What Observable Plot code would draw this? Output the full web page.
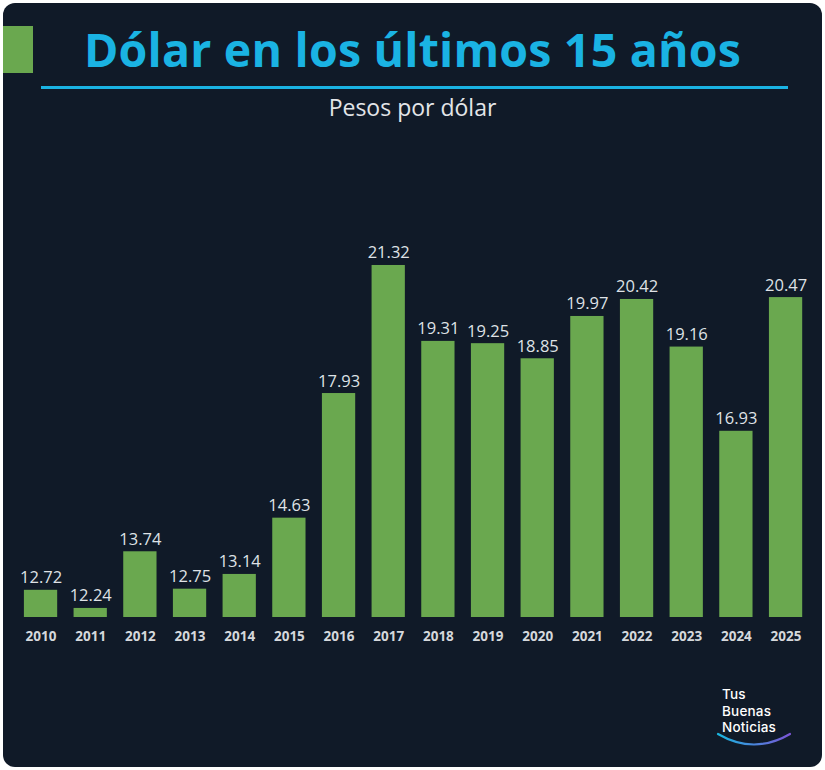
<!DOCTYPE html>
<html>
<head>
<meta charset="utf-8">
<script src="https://cdn.jsdelivr.net/npm/d3@7"></script>
<script src="https://cdn.jsdelivr.net/npm/@observablehq/plot@0.6"></script>
<style>
  html, body { margin: 0; padding: 0; background: #ffffff; }
  #wrap { position: relative; width: 825px; height: 770px; background: #ffffff; overflow: hidden; font-family: "Open Sans", sans-serif; }
  #card { position: absolute; left: 3px; top: 3px; width: 819px; height: 764px; background: #101a28; border-radius: 12px; }
  #tag { position: absolute; left: 3px; top: 26px; width: 30px; height: 47px; background: #6aa84f; }
  #title { position: absolute; left: 0; width: 825px; top: 19px; text-align: center; color: #1ab3e3; font-weight: 700; font-size: 46.5px; line-height: 60px; letter-spacing: 0.2px; }
  #rule { position: absolute; left: 41px; width: 747px; top: 86px; height: 3px; background: #1ab3e3; }
  #subtitle { position: absolute; left: 0; width: 825px; top: 92px; text-align: center; color: #e3e5e8; font-size: 23px; line-height: 30px; font-weight: 400; }
  #chart { position: absolute; left: 0; top: 0; }
  .logo { position: absolute; left: 722px; color: #ffffff; font-family: "Inter", sans-serif; font-weight: 500; font-size: 13.5px; line-height: 16px; letter-spacing: 0.2px; }
  #arc { position: absolute; left: 713px; top: 729px; }
</style>
</head>
<body>
<div id="wrap">
  <div id="card"></div>
  <div id="tag"></div>
  <div id="title">Dólar en los últimos 15 años</div>
  <div id="rule"></div>
  <div id="subtitle">Pesos por dólar</div>
  <div id="chart"></div>
  <div class="logo" style="top:686px">Tus</div>
  <div class="logo" style="top:703px">Buenas</div>
  <div class="logo" style="top:719px">Noticias</div>
  <svg id="arc" width="82" height="22">
    <defs>
      <linearGradient id="g" x1="0" x2="1" y1="0" y2="0">
        <stop offset="0" stop-color="#19b6e0"/>
        <stop offset="1" stop-color="#7b55d6"/>
      </linearGradient>
    </defs>
    <path d="M5 5 Q 41 26 77 5" fill="none" stroke="url(#g)" stroke-width="2.2" stroke-linecap="round"/>
  </svg>
</div>
<script>
const years = ["2010","2011","2012","2013","2014","2015","2016","2017","2018","2019","2020","2021","2022","2023","2024","2025"];
const values = [12.72, 12.24, 13.74, 12.75, 13.14, 14.63, 17.93, 21.32, 19.31, 19.25, 18.85, 19.97, 20.42, 19.16, 16.93, 20.47];
const yBase = 12;
const yTop = 22;

const data = years.map((y, i) => ({year: y, value: values[i]}));

const chart = Plot.plot({
  width: 825,
  height: 770,
  marginTop: 239.3,
  marginBottom: 153,
  marginLeft: 23.9,
  marginRight: 22.8,
  style: {background: "transparent", fontFamily: "Open Sans, sans-serif", overflow: "visible"},
  x: {domain: years, paddingInner: 0.33, paddingOuter: 0, round: false, label: null},
  y: {domain: [yBase, yTop], axis: null},
  marks: [
    Plot.barY(data, {x: "year", y1: yBase, y2: "value", fill: "#6aa84f"}),
    Plot.text(data, {x: "year", y: "value", text: d => d.value.toFixed(2), dy: -7, lineAnchor: "bottom", fill: "#dfe2e6", fontSize: 16.5}),
    Plot.axisX({tickSize: 0, tickPadding: 14, fontSize: 13.5, fontWeight: "bold", fill: "#d5d8dc", label: null})
  ]
});
document.getElementById("chart").appendChild(chart);
</script>
</body>
</html>
